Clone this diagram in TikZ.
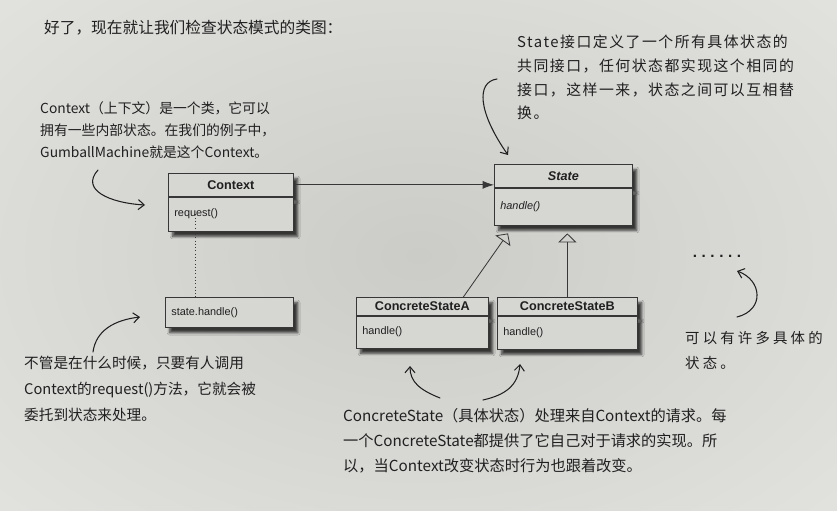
\documentclass[tikz,border=0pt]{standalone}
\usepackage{fontspec}
\setmainfont{Liberation Sans}
\newfontfamily\cjk{Noto Sans CJK SC}
\newfontfamily\hand{Noto Sans CJK SC}
\newfontfamily\handmid[LetterSpace=10]{Noto Sans CJK SC}
\newfontfamily\handwide[LetterSpace=22]{Noto Sans CJK SC}
\newfontfamily\dotfont[LetterSpace=30]{Liberation Sans}
\usetikzlibrary{arrows.meta,shadows.blur}
\definecolor{paperlight}{RGB}{236,236,233}
\definecolor{paperdark}{RGB}{203,203,200}
\definecolor{boxfill}{RGB}{214,214,211}
\definecolor{linegray}{RGB}{55,55,55}
\definecolor{ink}{RGB}{32,32,32}
\tikzset{
  umlbox/.style={draw=linegray, fill=boxfill, line width=0.6pt, inner xsep=0.18cm, inner ysep=0pt, text=ink,
    blur shadow={shadow xshift=0.13cm, shadow yshift=-0.16cm, shadow blur steps=6, shadow opacity=75}},
  umlname/.style={umlbox, font=\bfseries\fontsize{10.8}{12}\selectfont, anchor=north west},
  umlops/.style={umlbox, font=\fontsize{9.3}{11}\selectfont, align=left, anchor=north west},
  note/.style={text=ink, align=left, anchor=north west, inner sep=0pt},
  handarrow/.style={ink, line width=0.9pt, line cap=round, -{Straight Barb[length=1.8mm,width=3mm]}},
  gen/.style={linegray, line width=0.7pt, -{Triangle[open, length=2.7mm, width=5.5mm]}},
}
\begin{document}
\begin{tikzpicture}[x=0.03cm, y=-0.03cm]
		\useasboundingbox (0,0) rectangle (837,511);
		%Paper
		\begin{scope}
		\clip (0,0) rectangle (837,511);
		\shade[inner color=paperdark, outer color=paperlight] (-420,-300) rectangle (1257,811);
		\end{scope}
		%Title
		\node[anchor=west, text=ink, font=\cjk\fontsize{13.4}{15}\selectfont] (title) at (40,28) {好了，现在就让我们检查状态模式的类图：};
		%Classes
		\node[umlname, minimum width=3.75cm, minimum height=0.69cm] (ctx) at (168,173) {Context};
		\node[umlops, text width=3.39cm, minimum height=1.02cm] (ctxops) at (ctx.south west) {request()};
		\node[umlname, minimum width=4.14cm, minimum height=0.69cm] (state) at (494,164) {\itshape State};
		\node[umlops, text width=3.78cm, minimum height=1.11cm] (stateops) at (state.south west) {\itshape handle()};
		\node[umlops, text width=3.48cm, minimum height=0.9cm] (call) at (165,297) {state.handle()};
		\node[umlname, minimum width=3.96cm, minimum height=0.54cm] (csa) at (356,297) {ConcreteStateA};
		\node[umlops, text width=3.6cm, minimum height=0.96cm] (csaops) at (csa.south west) {handle()};
		\node[umlname, minimum width=4.2cm, minimum height=0.54cm] (csb) at (497,297) {ConcreteStateB};
		\node[umlops, text width=3.84cm, minimum height=0.99cm] (csbops) at (csb.south west) {handle()};
		%Connectors
		\draw[linegray, line width=0.7pt, -{Latex[length=3.4mm,width=2.4mm]}] (ctx.east) -- (ctx.east -| state.west);
		\draw[gen] ([xshift=1.23cm]csa.north) -- ([xshift=0.42cm, yshift=-0.24cm]stateops.south west);
		\draw[gen, shorten >=0.24cm] (csb.north) -- (csb.north |- stateops.south);
		\coordinate (req) at ([xshift=0.81cm, yshift=0.51cm]ctxops.south west);
		\draw[linegray, dotted, line width=0.8pt] (req) -- (req |- call.north);
		\node[text=ink, font=\dotfont\bfseries\fontsize{13}{14}\selectfont] (more) at (717,256) {......};
		%Notes
		\node[note, font=\hand\fontsize{11.8}{19.1}\selectfont] (ctxnote) at (40,101) {Context（上下文）是一个类，它可以\\拥有一些内部状态。在我们的例子中，\\GumballMachine就是这个Context。};
		\node[note, font=\handmid\fontsize{12.7}{20.2}\selectfont] (statenote) at (517,35) {State接口定义了一个所有具体状态的\\共同接口，任何状态都实现这个相同的\\接口，这样一来，状态之间可以互相替\\换。};
		\node[note, font=\hand\fontsize{12.5}{22.1}\selectfont] (callnote) at (24,356) {不管是在什么时候，只要有人调用\\Context的request()方法，它就会被\\委托到状态来处理。};
		\node[note, font=\hand\fontsize{13}{21.3}\selectfont] (csnote) at (343,408) {ConcreteState（具体状态）处理来自Context的请求。每\\一个ConcreteState都提供了它自己对于请求的实现。所\\以，当Context改变状态时行为也跟着改变。};
		\node[note, font=\handwide\fontsize{12.3}{21.3}\selectfont] (morenote) at (685,331) {可以有许多具体的\\状态。};
		%Hand arrows
		\coordinate (sa1) at (497,79); \coordinate (sa2) at (508,155);
		\coordinate (ca1) at (98,170); \coordinate (ca2) at (145,205);
		\coordinate (ha1) at (93,352); \coordinate (ha2) at (140,317);
		\coordinate (aa1) at (440,398); \coordinate (aa2) at (410,366);
		\coordinate (ba1) at (483,400); \coordinate (ba2) at (520,364);
		\coordinate (ma1) at (737,317); \coordinate (ma2) at (737,271);
		\draw[handarrow] (sa1) .. controls (476,82) and (478,112) .. (sa2);
		\draw[handarrow] (ca1) .. controls (80,190) and (110,203) .. (ca2);
		\draw[handarrow] (ha1) .. controls (96,330) and (115,320) .. (ha2);
		\draw[handarrow] (aa1) .. controls (420,390) and (410,382) .. (aa2);
		\draw[handarrow] (ba1) .. controls (505,395) and (518,386) .. (ba2);
		\draw[handarrow] (ma1) .. controls (765,310) and (762,280) .. (ma2);
\end{tikzpicture}
\end{document}
